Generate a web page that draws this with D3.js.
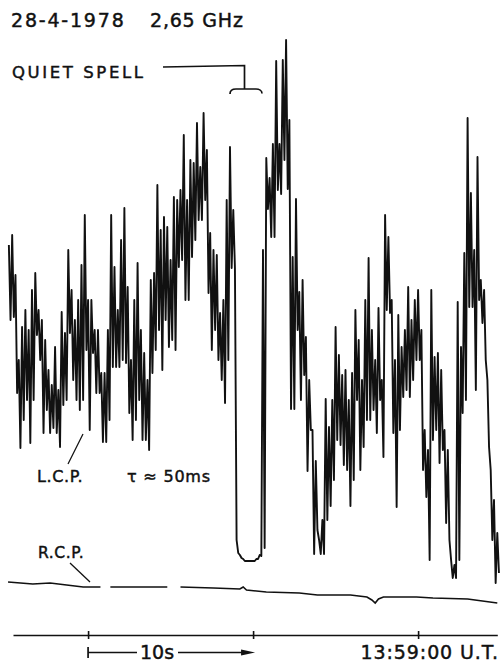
<!DOCTYPE html>
<html>
<head>
<meta charset="utf-8">
<script src="https://cdn.jsdelivr.net/npm/d3@7"></script>
<style>
body { margin: 0; background: #fff; }
svg text { font-family: 'DejaVu Sans', sans-serif; fill: #111; stroke: #111; stroke-width: 0.45px; }
</style>
</head>
<body>
<div id="chart"></div>
<script>
'use strict';

// L.C.P. trace, read as max/min per 0.2 s step (arbitrary flux units)
var sampleStart = -4.8;
var sampleStep = 0.2;
var lcpHigh = [
    395, 405, 365, 280, 313, 330, 310, 350, 367, 330,
    320, 300, 270, 255, 293, 250, 328, 307, 390, 350,
    320, 340, 375, 425, 340, 340, 310, 310, 267, 267,
    310, 425, 373, 330, 400, 432, 353, 280, 340, 377,
    310, 287, 260, 360, 367, 455, 410, 423, 413, 380,
    443, 440, 450, 505, 440, 480, 477, 517, 473, 527,
    490, 407, 390, 385, 327, 340, 440, 493, 430, 100,
    85, 81, 79, 79, 79, 81, 85, 390, 482, 462,
    496, 579, 496, 580, 600, 520, 383, 441, 348, 360,
    303, 260, 210, 179, 100, 120, 241, 213, 240, 313,
    285, 265, 270, 240, 267, 330, 300, 260, 340, 382,
    310, 280, 332, 260, 425, 403, 340, 280, 325, 293,
    310, 353, 320, 340, 350, 310, 210, 190, 350, 283,
    287, 270, 210, 190, 80, 75, 338, 293, 387, 522,
    447, 390, 483, 360, 350, 260, 170, 140, 107
];
var lcpLow = [
    320, 323, 247, 192, 220, 240, 197, 240, 305, 280,
    207, 230, 207, 212, 207, 193, 235, 240, 307, 260,
    240, 230, 240, 290, 210, 287, 247, 247, 198, 198,
    220, 273, 273, 273, 280, 277, 227, 200, 220, 240,
    200, 200, 190, 267, 290, 310, 270, 320, 293, 300,
    290, 373, 380, 340, 340, 383, 400, 420, 420, 440,
    347, 290, 310, 280, 260, 237, 280, 372, 372, 87,
    82, 79, 79, 79, 79, 81, 84, 92, 431, 403,
    403, 450, 446, 480, 451, 231, 231, 310, 240, 265,
    169, 210, 86, 110, 86, 86, 120, 134, 160, 200,
    195, 175, 170, 134, 160, 240, 170, 193, 220, 220,
    230, 207, 240, 183, 330, 327, 207, 133, 210, 243,
    250, 243, 260, 280, 280, 170, 143, 80, 200, 210,
    177, 190, 117, 100, 62, 62, 80, 227, 240, 333,
    333, 250, 340, 317, 280, 193, 100, 57, 67
];

// R.C.P. trace (null = gap in the pen line)
var rcpTime = [-4.85, -4.1, -3.35, -2.3, -1.3, -0.3, 0.75, 0.76, 1.35, 4.8, 4.81,
    5.6, 7.6, 9.2, 9.4, 9.6, 10.8, 12.8, 13.9, 15.9, 16.9, 17.2, 17.4, 17.6, 17.9,
    19.9, 20.9, 23.0, 24.8];
var rcpFlux = [58, 57, 56, 57, 55, 53, 53, null, 53, 53, null,
    53, 52, 51, 53, 50, 48, 47, 45, 45, 43, 40, 37, 41, 43,
    43, 42, 41, 37];

var timeTicks = [0, 10, 20];

var width = 501;
var height = 664;

var x = d3.scaleLinear().domain([-4.55, 24.8]).range([13, 497.3]);
var y = d3.scaleLinear().domain([0, 600]).range([640, 40]);

var svg = d3.select('#chart')
    .append('svg')
    .attr('width', width)
    .attr('height', height)
    .style('background', '#fff');

// zig-zag pen trace between the max and min of each step
var lcpPoints = [];
lcpHigh.forEach(function(h, i) {
    var t = sampleStart + i * sampleStep;
    lcpPoints.push([t, h]);
    lcpPoints.push([t + sampleStep / 2, lcpLow[i]]);
});

var line = d3.line()
    .x(function(d) { return x(d[0]); })
    .y(function(d) { return y(d[1]); });

svg.append('path')
    .attr('d', line(lcpPoints))
    .attr('fill', 'none')
    .attr('stroke', '#111')
    .attr('stroke-width', 1.9)
    .attr('stroke-linejoin', 'round');

var rcpPoints = rcpTime.map(function(t, i) { return [t, rcpFlux[i]]; });
svg.append('path')
    .attr('d', line.defined(function(d) { return d[1] !== null; })(rcpPoints))
    .attr('fill', 'none')
    .attr('stroke', '#111')
    .attr('stroke-width', 1.6);

// time axis: ticks cross the line
var axisY = 635;
svg.append('g')
    .attr('transform', 'translate(0,' + axisY + ')')
    .call(d3.axisBottom(x).tickValues(timeTicks).tickSizeInner(4).tickSizeOuter(0).tickFormat(''))
    .call(function(g) {
        g.select('.domain').attr('stroke', '#111').attr('stroke-width', 1.7);
        g.selectAll('.tick line').attr('stroke', '#111').attr('stroke-width', 1.6);
    });
svg.append('g')
    .attr('transform', 'translate(0,' + axisY + ')')
    .call(d3.axisTop(x).tickValues(timeTicks).tickSizeInner(4).tickSizeOuter(0).tickFormat(''))
    .call(function(g) {
        g.select('.domain').remove();
        g.selectAll('.tick line').attr('stroke', '#111').attr('stroke-width', 1.6);
    });

// 10 s scale arrow
var x0 = x(timeTicks[0]);
var x1 = x(timeTicks[1]);
svg.append('path')
    .attr('d', 'M' + x0 + ',647V658M' + x0 + ',652.5H137M178,652.5H' + (x1 - 10))
    .attr('stroke', '#111').attr('stroke-width', 1.7).attr('fill', 'none');
svg.append('path')
    .attr('d', 'M' + (x1 - 12) + ',649.5L' + (x1 + 2) + ',652.5L' + (x1 - 12) + ',655.5Z')
    .attr('fill', '#111');
svg.append('text').attr('x', 157).attr('y', 659).attr('text-anchor', 'middle')
    .style('font-size', '19px').text('10s');
svg.append('text').attr('x', 499).attr('y', 659).attr('text-anchor', 'end')
    .style('font-size', '19px').style('letter-spacing', '0.9px').text('13:59:00 U.T.');

// title and labels
svg.append('text').attr('x', 11).attr('y', 27)
    .style('font-size', '19px').style('letter-spacing', '1.8px').text('28-4-1978');
svg.append('text').attr('x', 150).attr('y', 27)
    .style('font-size', '19px').style('letter-spacing', '0.8px').text('2,65 GHz');

svg.append('text').attr('x', 12).attr('y', 77.5)
    .style('font-size', '16.5px').style('letter-spacing', '2.6px').text('QUIET SPELL');
svg.append('path')
    .attr('d', 'M163,67L244.5,65.5V89M230,94C230,90.5 232,89 236,89H256C259,89 262,90.5 262,93.5')
    .attr('fill', 'none').attr('stroke', '#111').attr('stroke-width', 1.7);

svg.append('text').attr('x', 37).attr('y', 482)
    .style('font-size', '16px').style('letter-spacing', '0.6px').text('L.C.P.');
svg.append('line').attr('x1', 68).attr('y1', 464).attr('x2', 83).attr('y2', 434)
    .attr('stroke', '#111').attr('stroke-width', 1.3);
svg.append('text').attr('x', 127).attr('y', 482)
    .style('font-size', '16px').style('letter-spacing', '0.8px').text('τ ≈ 50ms');

svg.append('text').attr('x', 38).attr('y', 558)
    .style('font-size', '15.5px').style('letter-spacing', '0.6px').text('R.C.P.');
svg.append('line').attr('x1', 70).attr('y1', 563).attr('x2', 90).attr('y2', 582)
    .attr('stroke', '#111').attr('stroke-width', 1.3);
</script>
</body>
</html>
